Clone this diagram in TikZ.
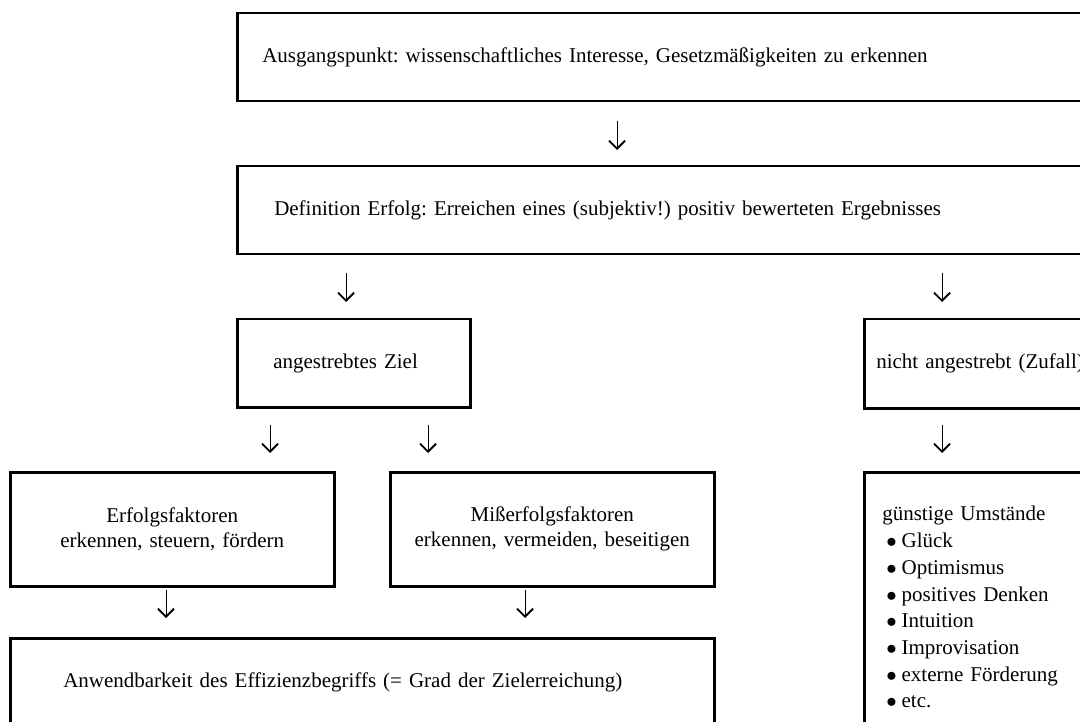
\documentclass[tikz,border=0pt]{standalone}
\usepackage{fontspec}
\setmainfont{Liberation Serif}
\usetikzlibrary{arrows.meta}
\frenchspacing
\newcommand\listitem[1]{\hspace*{4pt}$\bullet$\hspace{5pt}#1}
\begin{document}
\begin{tikzpicture}[x=1pt,y=-1pt,
  box/.style={draw, line width=2.5pt, rectangle, anchor=north west, inner ysep=0pt,
    font=\fontsize{21}{26.7}\selectfont},
  pair/.style={box, align=center, inner xsep=0pt, minimum width=324pt, text width=324pt,
    minimum height=114pt, font=\fontsize{21}{25}\selectfont},
  flow/.style={line width=1pt, -{Straight Barb[length=8pt, width=16pt, line width=1.8pt]}}]
\useasboundingbox (0,0) rectangle (1080,722);
\clip (0,0) rectangle (1080,722);

% top chain
\node[box, align=left, minimum height=88pt, inner xsep=25pt, text width=840pt] (start) at (236,12)
  {Ausgangspunkt: wissenschaftliches Interesse, Gesetzmäßigkeiten zu erkennen};
\node[box, align=left, minimum height=88pt, inner xsep=37pt, text width=820pt] (def) at (236,165)
  {Definition Erfolg: Erreichen eines (subjektiv!) positiv bewerteten Ergebnisses};

% the two branches
\node[box, align=left, minimum height=88pt, inner xsep=36pt, text width=161pt] (ziel) at (236,318)
  {angestrebtes Ziel};
\node[box, align=left, minimum height=89pt, inner xsep=12pt, text width=300pt] (zufall) at (863,318)
  {nicht angestrebt (Zufall)};

% factors
\node[pair] (erfolg) at (9,471) {Erfolgsfaktoren\\erkennen, steuern, fördern};
\node[pair] (misserfolg) at (389,471) {Mißerfolgsfaktoren\\erkennen, vermeiden, beseitigen};
\node[box, align=left, minimum height=270pt, inner xsep=18pt, text width=280pt] (umstaende) at (863,471)
  {günstige Umstände\\
   \listitem{Glück}\\
   \listitem{Optimismus}\\
   \listitem{positives Denken}\\
   \listitem{Intuition}\\
   \listitem{Improvisation}\\
   \listitem{externe Förderung}\\
   \listitem{etc.}};

% result
\node[box, align=left, minimum height=88pt, inner xsep=53pt, text width=598pt] (effizienz) at (9,637)
  {Anwendbarkeit des Effizienzbegriffs (= Grad der Zielerreichung)};

% free-standing downward arrows between the boxes
\foreach \n/\x/\ya/\yb in {1/617/121/150, 2/346/273/302, 3/942/273/302,
                           4/270/425/453, 5/428/425/453, 6/942/425/453,
                           7/166/590/618, 8/525/590/618}{
  \coordinate (a\n top) at (\x,\ya);
  \coordinate (a\n tip) at (\x,\yb);
  \draw[flow] (a\n top) -- (a\n tip);
}
\end{tikzpicture}
\end{document}
